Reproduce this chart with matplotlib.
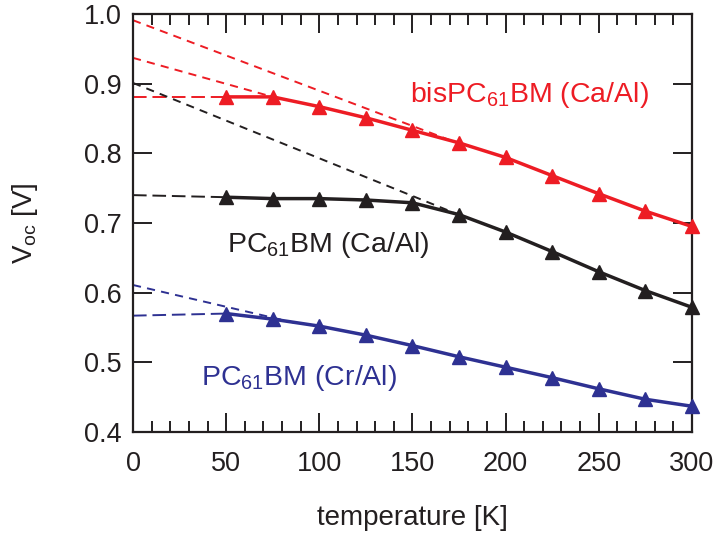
import numpy as np
import matplotlib
matplotlib.use('Agg')
import matplotlib.pyplot as plt
from matplotlib.ticker import MultipleLocator

plt.rcParams['font.family'] = ['Liberation Sans', 'DejaVu Sans']
plt.rcParams['mathtext.default'] = 'regular'

temp = [50, 75, 100, 125, 150, 175, 200, 225, 250, 275, 300]
voc_bis = [0.881, 0.881, 0.867, 0.851, 0.833, 0.815, 0.794, 0.768, 0.742, 0.717, 0.695]
voc_ca = [0.737, 0.735, 0.735, 0.733, 0.729, 0.712, 0.687, 0.659, 0.630, 0.603, 0.579]
voc_cr = [0.570, 0.562, 0.552, 0.539, 0.524, 0.508, 0.493, 0.478, 0.462, 0.447, 0.437]

# extrapolation guides: (x0, y0, x1, y1)
guide_bis = [(0, 0.881, 50, 0.881), (0, 0.937, 75, 0.881), (0, 0.991, 172, 0.817)]
guide_ca = [(0, 0.740, 50, 0.737), (0, 0.901, 172, 0.715)]
guide_cr = [(0, 0.567, 50, 0.570), (0, 0.611, 88, 0.556)]

red = '#ed1c24'
black = '#231f20'
blue = '#2e3192'

fig = plt.figure(figsize=(7.17, 5.37), dpi=100)
ax = fig.add_axes([0.1855, 0.1955, 0.7795, 0.7785])

for guides, c in [(guide_bis, red), (guide_ca, black), (guide_cr, blue)]:
    for i, (x0, y0, x1, y1) in enumerate(guides):
        ls = (0, (7, 3)) if i == 0 else (0, (4.2, 3.2))
        ax.plot([x0, x1], [y0, y1], color=c, lw=1.4, ls=ls)

for y, c in [(voc_bis, red), (voc_ca, black), (voc_cr, blue)]:
    ax.plot(temp, y, color=c, lw=2.5, marker='^', ms=10, clip_on=False, zorder=3)

ax.text(148.5, 0.874, 'bisPC$_{61}$BM (Ca/Al)', color=red, fontsize=20.5, ha='left', va='baseline')
ax.text(50.5, 0.659, 'PC$_{61}$BM (Ca/Al)', color=black, fontsize=20.5, ha='left', va='baseline')
ax.text(36.5, 0.468, 'PC$_{61}$BM (Cr/Al)', color=blue, fontsize=20.5, ha='left', va='baseline')

ax.set_xlim(0, 300)
ax.set_ylim(0.4, 1.0)
ax.xaxis.set_major_locator(MultipleLocator(50))
ax.xaxis.set_minor_locator(MultipleLocator(10))
ax.yaxis.set_major_locator(MultipleLocator(0.1))
ax.yaxis.set_major_formatter(matplotlib.ticker.FormatStrFormatter('%.1f'))
ax.tick_params(which='both', direction='in', top=True, right=True, colors=black,
               labelsize=19.5, width=1.4)
ax.tick_params(axis='x', pad=14)
ax.tick_params(axis='y', pad=8)
ax.tick_params(which='major', length=14)
ax.tick_params(which='minor', length=8)
for s in ax.spines.values():
    s.set_linewidth(1.6)
    s.set_color(black)

ax.set_xlabel('temperature [K]', fontsize=20, color=black, labelpad=20)
ax.set_ylabel('V$_{oc}$ [V]', fontsize=20, color=black, labelpad=32)

fig.savefig('out.png', dpi=100)
